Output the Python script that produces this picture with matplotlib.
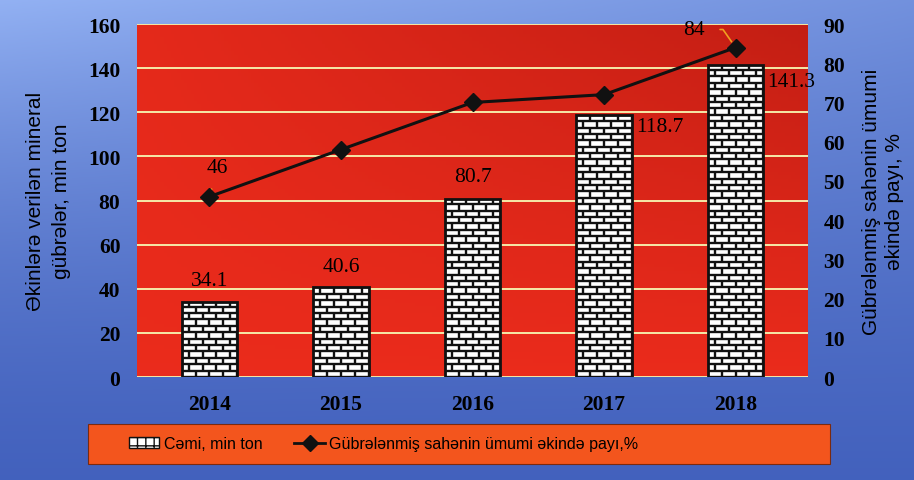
import numpy as np
import matplotlib.pyplot as plt
from matplotlib.collections import LineCollection
from matplotlib.patches import Patch, Rectangle
from matplotlib.lines import Line2D

plt.rcParams['font.family'] = ['Liberation Serif', 'DejaVu Serif']

years = ['2014', '2015', '2016', '2017', '2018']
total_kt = [34.1, 40.6, 80.7, 118.7, 141.3]
share_pct = [46, 58, 70, 72, 84]

left_label = 'Əkinlərə verilən mineral\ngübrələr, min ton'
right_label = 'Gübrələnmiş sahənin ümumi\nəkində payı, %'
bar_name = 'Cəmi, min ton'
line_name = 'Gübrələnmiş sahənin ümumi əkində payı,%'

sans = ['Liberation Sans', 'DejaVu Sans']

fig = plt.figure(figsize=(9.14, 4.81), dpi=100)

# blue photographed background
bg = fig.add_axes([0, 0, 1, 1], zorder=-10)
yy, xx = np.mgrid[0:1:200j, 0:1:300j]
shade = 0.55 + 0.4 * (1 - yy) ** 2 * (1 - 0.6 * xx) - 0.2 * yy
light = np.array([0.60, 0.72, 0.97])
dark = np.array([0.08, 0.20, 0.62])
img = dark + (light - dark) * np.clip(shade, 0, 1)[..., None]
bg.imshow(img, extent=[0, 1, 0, 1], aspect='auto', origin='upper')
bg.axis('off')

ax = fig.add_axes([0.150, 0.214, 0.734, 0.734])
for s in ax.spines.values():
    s.set_visible(False)

# red plot area, a bit darker towards the top right
ry, rx = np.mgrid[0:1:100j, 0:1:200j]
rs = np.clip(0.55 * (1 - ry) * rx + 0.1 * (1 - ry), 0, 1)[..., None]
red_img = np.array([0.92, 0.17, 0.11]) * (1 - rs) + np.array([0.68, 0.09, 0.06]) * rs
ax.imshow(red_img, extent=[0, 1, 0, 1], transform=ax.transAxes, aspect='auto',
          origin='upper', zorder=0)

x = np.arange(len(years))
bw = 0.42
bars = ax.bar(x, total_kt, width=bw, color='white', edgecolor='none', zorder=2)

# brick texture clipped to each bar
row_h = 2.9
brick_w = bw / 4
for b in bars:
    x0, w, top = b.get_x(), b.get_width(), b.get_height()
    segs = []
    for i, yb in enumerate(np.arange(0, top + row_h, row_h)):
        segs.append([(x0, yb), (x0 + w, yb)])
        off = 0 if i % 2 == 0 else brick_w / 2
        for xv in np.arange(x0 - brick_w + off, x0 + w + brick_w, brick_w):
            segs.append([(xv, yb), (xv, yb + row_h)])
    lc = LineCollection(segs, colors='#111111', linewidths=1.7, zorder=2.1)
    ax.add_collection(lc, autolim=False)
    lc.set_clip_path(b)
ax.bar(x, total_kt, width=bw, fill=False, edgecolor='#111111', linewidth=2, zorder=3)

ax.set_ylim(0, 160)
ax.set_xlim(-0.55, len(years) - 0.45)
ax.set_yticks(np.arange(0, 161, 20))
ax.set_xticks(x)
ax.set_xticklabels(years)
ax.yaxis.grid(True, color='#f6eaa8', linewidth=1.4, zorder=1)
ax.set_axisbelow(True)
ax.tick_params(axis='y', length=0, labelsize=15.5, pad=12)
ax.tick_params(axis='x', length=0, labelsize=15.5, pad=12)
for t in ax.get_xticklabels() + ax.get_yticklabels():
    t.set_fontweight('bold')
ax.set_ylabel(left_label, family=sans, fontsize=15, labelpad=12, linespacing=1.5)

# bar value labels
offsets = [(0, 15), (0, 15), (0, 16), (3, -8), (3, -11.5)]
for i, (v, off) in enumerate(zip(total_kt, offsets)):
    xi = x[i] if off[0] == 0 else x[i] + bw / 2
    ax.annotate(f'{v}', (xi, v), xytext=off, textcoords='offset points',
                ha='center' if off[0] == 0 else 'left', va='center', fontsize=15.5, zorder=5)

ax2 = ax.twinx()
for s in ax2.spines.values():
    s.set_visible(False)
ax2.plot(x, share_pct, color='#111111', linewidth=2.2, marker='D', markersize=9, zorder=4)
ax2.set_ylim(0, 90)
ax2.set_yticks(np.arange(0, 91, 10))
ax2.tick_params(length=0, labelsize=15.5, pad=11)
for t in ax2.get_yticklabels():
    t.set_fontweight('bold')
ax2.set_ylabel(right_label, family=sans, fontsize=15, rotation=90, labelpad=12, linespacing=1.3)

ax2.annotate(f'{share_pct[0]}', (x[0], share_pct[0]), xytext=(6, 21), textcoords='offset points',
             ha='center', va='center', fontsize=15.5,
             arrowprops=dict(arrowstyle='-', color='#f0a020', lw=1.2, shrinkA=7, shrinkB=4))
ax2.annotate(f'{share_pct[-1]}', (x[-1], share_pct[-1]), xytext=(-30, 13), textcoords='offset points',
             ha='center', va='center', fontsize=15.5,
             arrowprops=dict(arrowstyle='-', color='#f0a020', lw=1.2, shrinkA=9, shrinkB=5,
                             connectionstyle='angle,angleA=0,angleB=125,rad=0'))

# legend band
fig.patches.append(Rectangle((0.096, 0.033), 0.812, 0.083, transform=fig.transFigure,
                             facecolor='#f3551d', edgecolor='#7a2a10', linewidth=0.8, zorder=0))
handles = [Patch(facecolor='white', edgecolor='#111111', hatch='++', label=bar_name),
           Line2D([], [], color='#111111', marker='D', markersize=8, linewidth=2, label=line_name)]
fig.legend(handles=handles, loc='center left', bbox_to_anchor=(0.125, 0.075), ncol=2, frameon=False,
           prop={'family': sans, 'size': 11.5}, handlelength=1.9, columnspacing=2.0, handletextpad=0.3)

fig.savefig('out.png', dpi=100)
